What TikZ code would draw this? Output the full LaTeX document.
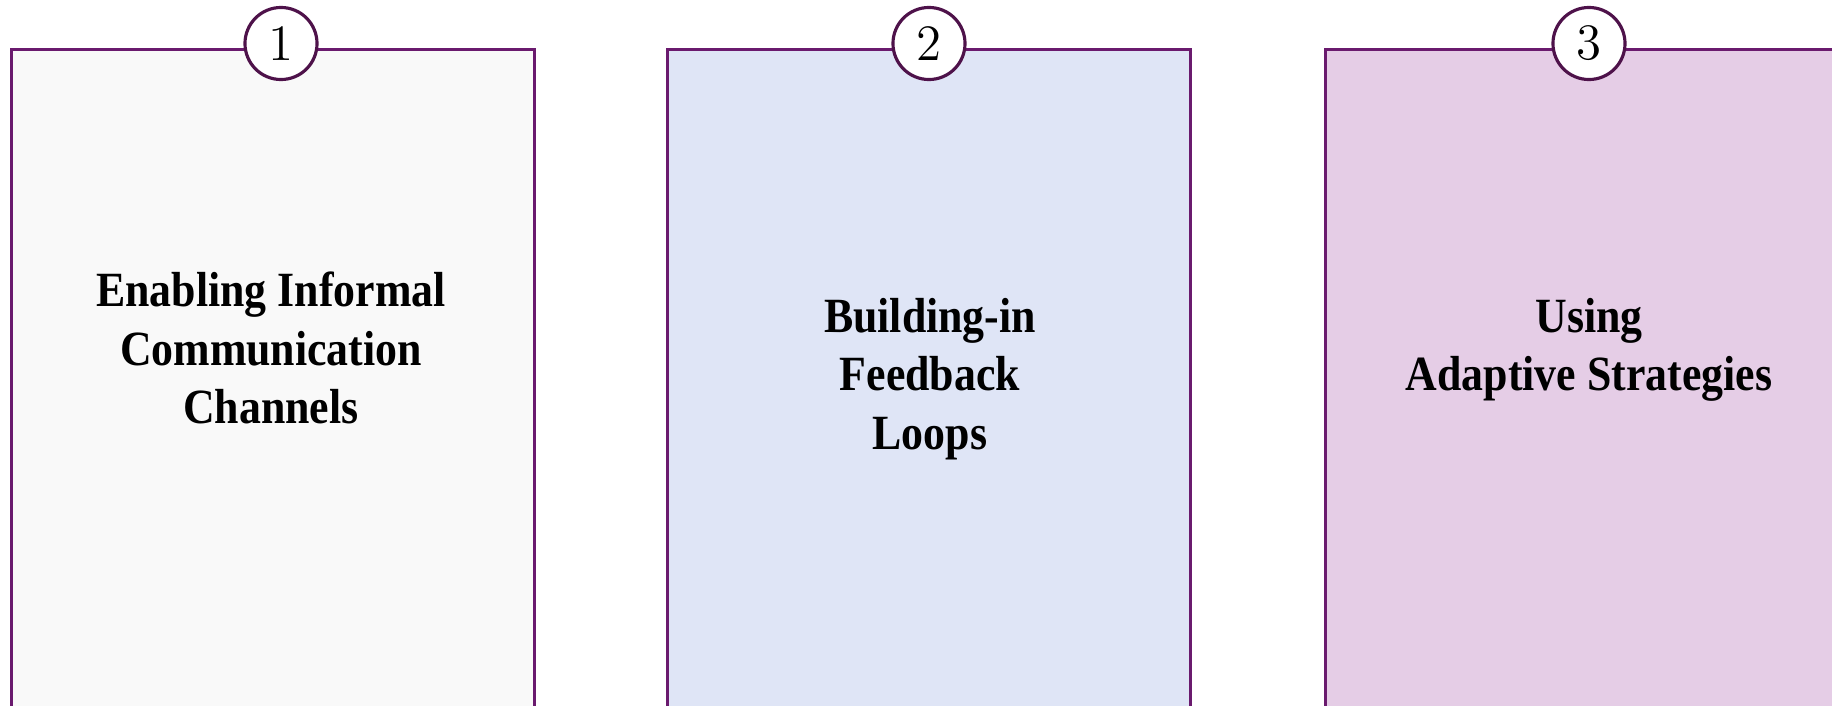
\documentclass[tikz,border=0pt]{standalone}
\usepackage{fontspec}
\newfontfamily\labelfont[FakeStretch=0.89]{Liberation Serif}
\usepackage{tikz}
\usetikzlibrary{
  positioning,
  calc
}
\definecolor{framecolor}{RGB}{106, 26, 110}
\definecolor{ringcolor}{RGB}{78, 18, 74}
\definecolor{panelgray}{RGB}{249, 249, 249}
\definecolor{panelblue}{RGB}{223, 229, 246}
\definecolor{panelpink}{RGB}{229, 205, 230}
\tikzset{
panel/.style={
  draw=framecolor,
  line width=0.8pt,
  rectangle,
  anchor=north west,
  inner sep=0pt,
  minimum width=5.225cm,
  minimum height=7.2cm
},
paneltext/.style={
  align=center,
  font=\labelfont\bfseries\fontsize{14}{16.6}\selectfont,
  text=black
},
numring/.style={
  circle,
  draw=ringcolor,
  fill=white,
  line width=0.9pt,
  minimum size=0.72cm,
  inner sep=0pt,
  font=\fontsize{14.5}{16}\selectfont
}
}

\begin{document}
\begin{tikzpicture}[x=0.01cm, y=-0.01cm]
  % Page frame
  \useasboundingbox (0,0) rectangle (1832,706);

  % Panel positions
  \def\topY{48}
  \def\panelA{10.5}
  \def\panelB{666}
  \def\panelC{1324}

  % Panels
  \node[panel, fill=panelgray] (boxA) at (\panelA,\topY) {};
  \node[panel, fill=panelblue] (boxB) at (\panelB,\topY) {};
  \node[panel, fill=panelpink] (boxC) at (\panelC,\topY) {};

  % Panel titles
  \node[paneltext] (txtA) at (271,348) {Enabling Informal\\Communication\\Channels};
  \node[paneltext] (txtB) at (930,379) {Building-in\\Feedback\\Loops};
  \node[paneltext] (txtC) at (1589,350) {Using\\Adaptive Strategies};

  % Number badges on the top edges
  \node[numring] (numA) at (281,43.5) {1};
  \node[numring] (numB) at (929,43.5) {2};
  \node[numring] (numC) at (1589,43.5) {3};
\end{tikzpicture}
\end{document}
